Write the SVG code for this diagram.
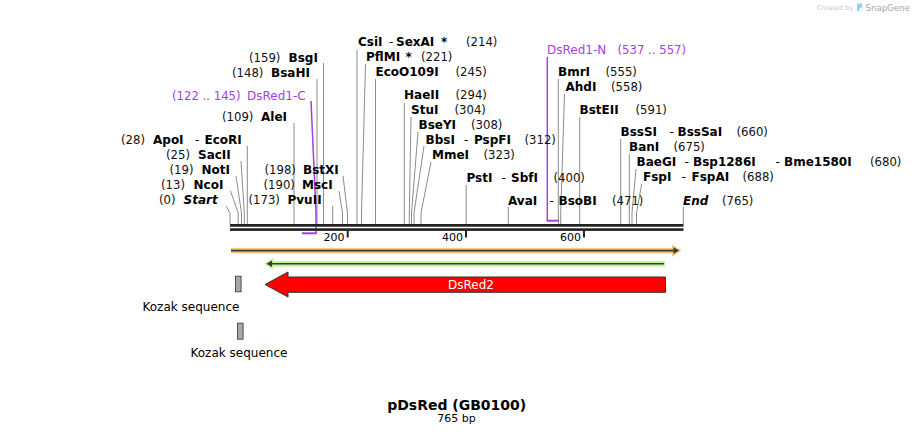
<svg xmlns="http://www.w3.org/2000/svg" width="914" height="434" viewBox="0 0 914 434">
<style>
text{font-family:"DejaVu Sans",Verdana,sans-serif;font-size:12px;fill:#000}
.n{font-weight:bold}
.bi{font-weight:bold;font-style:italic}
.num{font-size:11.7px;fill:#111}
.p{fill:#a23fe6}
.cl{fill:none;stroke:#8c8c8c;stroke-width:1}
.pl{fill:none;stroke:#a23fe6;stroke-width:1.5}
.tk{font-size:11px}
</style>
<rect width="914" height="434" fill="#fff"/>
<!-- watermark -->
<g id="watermark">
<text x="817" y="10" style="font-size:6.6px;fill:#c9c9c9">Created by</text>
<path d="M857 3.5 L862 3.5 Q863.5 6 861 8 L859.5 8 L859.5 11 L857 11 Z" fill="#8fd2f5"/>
<text x="865.5" y="10.5" style="font-size:8.6px;fill:#a7a7a7">SnapGene</text>
</g>
<!-- connectors -->
<g id="connectors">
<polyline class="cl" points="323.5,63 323.5,224"/>
<polyline class="cl" points="317,79 317,224"/>
<polyline class="cl" points="294,123 294,224"/>
<polyline class="cl" points="247.3,146 247.3,224"/>
<polyline class="cl" points="241,161 244.3,213 244.3,224"/>
<polyline class="cl" points="236,176 241.5,213 241.5,224"/>
<polyline class="cl" points="230.5,191 238.2,213 238.2,224"/>
<polyline class="cl" points="226,206 230,213 230,224"/>
<polyline class="cl" points="343,176 347.5,213 347.5,224"/>
<polyline class="cl" points="339,191 342.5,213 342.5,224"/>
<polyline class="cl" points="332.7,206 332.7,224"/>
<polyline class="cl" points="357,50 357,224"/>
<polyline class="cl" points="365.5,64 361.5,213 361.5,224"/>
<polyline class="cl" points="375.5,79 375.5,224"/>
<polyline class="cl" points="404.3,103 404.3,224"/>
<polyline class="cl" points="411,117 409.3,213 409.3,224"/>
<polyline class="cl" points="418,132 411.5,213 411.5,224"/>
<polyline class="cl" points="424,146 414,213 414,224"/>
<polyline class="cl" points="431,162 421,213 421,224"/>
<polyline class="cl" points="466.2,185 466.2,224"/>
<polyline class="cl" points="508.3,207 508.3,224"/>
<polyline class="cl" points="558.3,79 558.3,213 558.5,224"/>
<polyline class="cl" points="564.5,94 560.7,213 560.7,224"/>
<polyline class="cl" points="579.7,117 579.7,224"/>
<polyline class="cl" points="620.7,139 620.7,224"/>
<polyline class="cl" points="629.3,154 629.3,224"/>
<polyline class="cl" points="636,169 632,213 632,224"/>
<polyline class="cl" points="641.7,184 636.5,213 636.5,224"/>
<polyline class="cl" points="683.3,207 683.3,224"/>
<polyline class="pl" points="311,101 316,213 316,233.3"/>
<line x1="302" y1="233.3" x2="316.7" y2="233.3" stroke="#a23fe6" stroke-width="2"/>
<polyline class="pl" points="547.3,57 547.3,220.7"/>
<line x1="546.6" y1="220.7" x2="559" y2="220.7" stroke="#a23fe6" stroke-width="2"/>
</g>
<!-- sequence bar -->
<g id="sequence">
<rect x="230" y="224" width="453.5" height="2.7" fill="#222"/>
<rect x="230" y="228.3" width="453.5" height="2.6" fill="#222"/>
<line x1="347.7" y1="231" x2="347.7" y2="237.5" stroke="#222" stroke-width="2"/>
<line x1="466" y1="231" x2="466" y2="237.5" stroke="#222" stroke-width="2"/>
<line x1="584" y1="231" x2="584" y2="237.5" stroke="#222" stroke-width="2"/>
<text class="tk" x="344.5" y="240.5" text-anchor="end">200</text>
<text class="tk" x="463" y="240.5" text-anchor="end">400</text>
<text class="tk" x="581" y="240.5" text-anchor="end">600</text>
</g>
<!-- enzyme labels -->
<g id="BsgI"><text class="num" x="249" y="61.5">(159)</text><text class="n" x="288.5" y="61.5">BsgI</text></g>
<g id="BsaHI"><text class="num" x="232" y="76.5">(148)</text><text class="n" x="271" y="76.5">BsaHI</text></g>
<g id="DsRed1-C"><text class="num p" x="172" y="99.5">(122 .. 145)</text><text class="p" x="247" y="99.5">DsRed1-C</text></g>
<g id="AleI"><text class="num" x="222" y="120.5">(109)</text><text class="n" x="261" y="120.5">AleI</text></g>
<g id="ApoI-EcoRI"><text class="num" x="121" y="144">(28)</text><text class="n" x="153" y="144">ApoI</text><text x="195" y="144">-</text><text class="n" x="204.5" y="144">EcoRI</text></g>
<g id="SacII"><text class="num" x="166" y="159">(25)</text><text class="n" x="198" y="159">SacII</text></g>
<g id="NotI"><text class="num" x="169.5" y="174">(19)</text><text class="n" x="201.5" y="174">NotI</text></g>
<g id="NcoI"><text class="num" x="161" y="189">(13)</text><text class="n" x="193.5" y="189">NcoI</text></g>
<g id="Start"><text class="num" x="159" y="204">(0)</text><text class="bi" x="183.5" y="204">Start</text></g>
<g id="BstXI"><text class="num" x="264.5" y="174">(198)</text><text class="n" x="303" y="174">BstXI</text></g>
<g id="MscI"><text class="num" x="263.5" y="189">(190)</text><text class="n" x="302" y="189">MscI</text></g>
<g id="PvuII"><text class="num" x="248.5" y="204">(173)</text><text class="n" x="287.5" y="204">PvuII</text></g>
<g id="CsiI-SexAI"><text class="n" x="358" y="45.5">CsiI</text><text x="389" y="45.5">-</text><text class="n" x="396" y="45.5">SexAI</text><text class="n" x="441" y="45.5">*</text><text class="num" x="466" y="45.5">(214)</text></g>
<g id="PflMI"><text class="n" x="366" y="60.5">PflMI</text><text class="n" x="405.5" y="60.5">*</text><text class="num" x="421" y="60.5">(221)</text></g>
<g id="EcoO109I"><text class="n" x="375.5" y="75.5">EcoO109I</text><text class="num" x="455.5" y="75.5">(245)</text></g>
<g id="HaeII"><text class="n" x="404" y="98.5">HaeII</text><text class="num" x="455.5" y="98.5">(294)</text></g>
<g id="StuI"><text class="n" x="411" y="113.5">StuI</text><text class="num" x="454.5" y="113.5">(304)</text></g>
<g id="BseYI"><text class="n" x="418.5" y="128.5">BseYI</text><text class="num" x="471" y="128.5">(308)</text></g>
<g id="BbsI-PspFI"><text class="n" x="425.5" y="143.5">BbsI</text><text x="464" y="143.5">-</text><text class="n" x="474" y="143.5">PspFI</text><text class="num" x="524.5" y="143.5">(312)</text></g>
<g id="MmeI"><text class="n" x="432" y="158.5">MmeI</text><text class="num" x="483.5" y="158.5">(323)</text></g>
<g id="PstI-SbfI"><text class="n" x="466.5" y="181.5">PstI</text><text x="501.5" y="181.5">-</text><text class="n" x="511" y="181.5">SbfI</text><text class="num" x="553.5" y="181.5">(400)</text></g>
<g id="AvaI-BsoBI"><text class="n" x="508" y="204.5">AvaI</text><text x="549.5" y="204.5">-</text><text class="n" x="558.5" y="204.5">BsoBI</text><text class="num" x="612" y="204.5">(471)</text></g>
<g id="DsRed1-N"><text class="p" x="547" y="53.5">DsRed1-N</text><text class="num p" x="617.5" y="53.5">(537 .. 557)</text></g>
<g id="BmrI"><text class="n" x="558" y="76">BmrI</text><text class="num" x="605.5" y="76">(555)</text></g>
<g id="AhdI"><text class="n" x="565.5" y="91">AhdI</text><text class="num" x="611" y="91">(558)</text></g>
<g id="BstEII"><text class="n" x="579.5" y="114">BstEII</text><text class="num" x="635.5" y="114">(591)</text></g>
<g id="BssSI-BssSaI"><text class="n" x="620.5" y="136">BssSI</text><text x="669.5" y="136">-</text><text class="n" x="677.5" y="136">BssSaI</text><text class="num" x="736.5" y="136">(660)</text></g>
<g id="BanI"><text class="n" x="629" y="151">BanI</text><text class="num" x="673.5" y="151">(675)</text></g>
<g id="BaeGI-Bsp1286I-Bme1580I"><text class="n" x="636.5" y="165.5">BaeGI</text><text x="684.5" y="165.5">-</text><text class="n" x="693" y="165.5">Bsp1286I</text><text x="775.5" y="165.5">-</text><text class="n" x="784" y="165.5">Bme1580I</text><text class="num" x="870" y="165.5">(680)</text></g>
<g id="FspI-FspAI"><text class="n" x="643" y="181">FspI</text><text x="681.5" y="181">-</text><text class="n" x="691.5" y="181">FspAI</text><text class="num" x="742.5" y="181">(688)</text></g>
<g id="End"><text class="bi" x="683" y="204.5">End</text><text class="num" x="722" y="204.5">(765)</text></g>
<!-- features -->
<g id="feature-orange">
<rect x="231" y="247.8" width="443" height="5.6" fill="#f8c67d"/>
<polygon points="672,244.5 681.5,250.6 672,256.7" fill="#f8c67d"/>
<line x1="231" y1="250.6" x2="677" y2="250.6" stroke="#3a3a3a" stroke-width="1.6"/>
<polygon points="673.5,247.3 679,250.6 673.5,253.9" fill="#3a3a3a"/>
</g>
<g id="feature-green">
<rect x="272" y="261" width="393" height="5.6" fill="#c3f49a"/>
<polygon points="273.5,257.5 264,263.8 273.5,270.1" fill="#c3f49a"/>
<line x1="268" y1="263.8" x2="664" y2="263.8" stroke="#3a3a3a" stroke-width="1.6"/>
<polygon points="272,260.5 266.5,263.8 272,267.1" fill="#3a3a3a"/>
</g>
<g id="DsRed2">
<polygon points="265,284.5 288,272 288,277 665.5,277 665.5,292.3 288,292.3 288,297" fill="#ff0000" stroke="#333" stroke-width="1"/>
<text x="471" y="288.5" text-anchor="middle" style="fill:#fff">DsRed2</text>
</g>
<g id="Kozak1">
<rect x="235.5" y="276.2" width="5.6" height="15.6" fill="#a3a8ae" stroke="#444" stroke-width="0.9"/>
<text x="142.5" y="310.5">Kozak sequence</text>
</g>
<g id="Kozak2">
<rect x="237.5" y="323.2" width="5.6" height="16" fill="#a3a8ae" stroke="#444" stroke-width="0.9"/>
<text x="190.5" y="357">Kozak sequence</text>
</g>
<g id="title">
<text x="456.7" y="410" text-anchor="middle" style="font-weight:bold;font-size:14px">pDsRed (GB0100)</text>
<text x="456.5" y="421.5" text-anchor="middle" style="font-size:11px">765 bp</text>
</g>
</svg>
